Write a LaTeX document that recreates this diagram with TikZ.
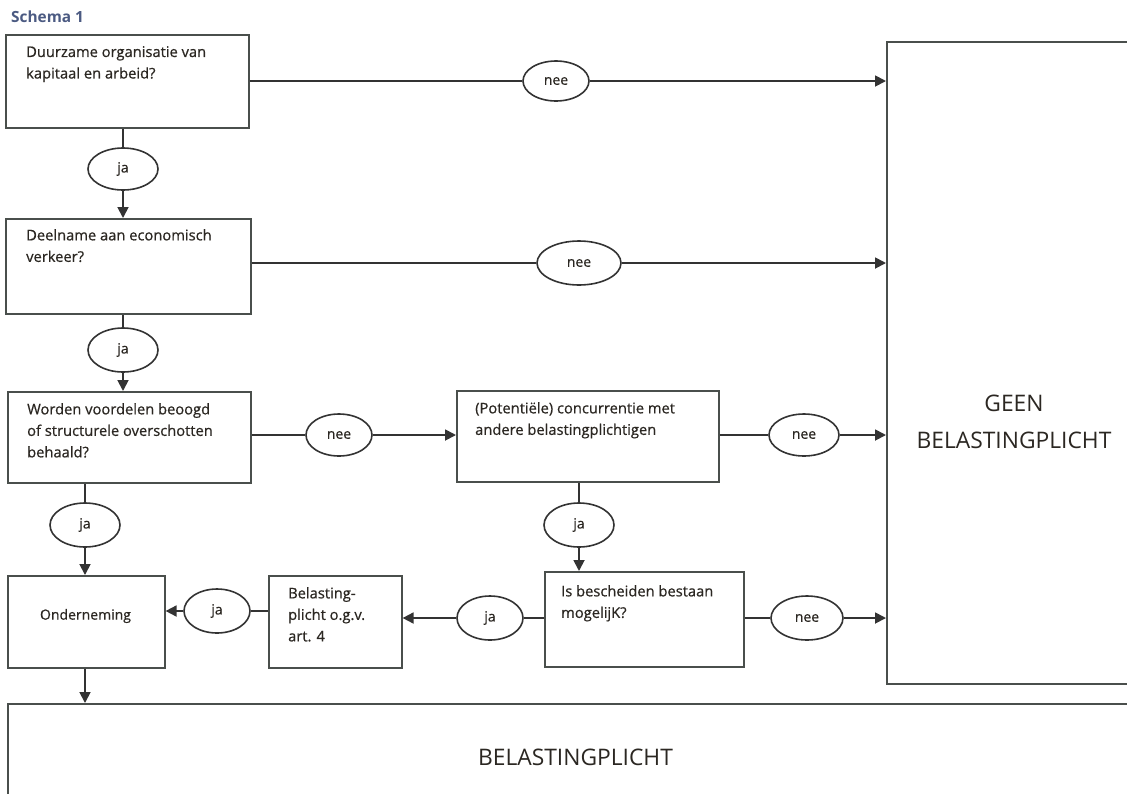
\documentclass[tikz,border=0pt]{standalone}
\usepackage{fontspec}
\setmainfont{Open Sans}
\newfontfamily\heavy{Open Sans}[FakeBold=0.6]
\usetikzlibrary{arrows.meta,shapes.geometric}
\definecolor{ln}{HTML}{333333}
\definecolor{bx}{HTML}{4A4F4C}
\definecolor{tx}{HTML}{2B2722}
\definecolor{ttl}{HTML}{4B5A82}
\tikzset{
  box/.style={draw=bx, line width=1.6pt, fill=white, inner sep=0pt},
  oval/.style={draw=ln, line width=1.6pt, ellipse, fill=white, inner sep=0pt, font=\heavy\fontsize{14}{16}\selectfont, text=tx},
  btxt/.style={anchor=north west, inner sep=0pt, align=left, text=tx, font=\heavy\fontsize{14.7}{21.5}\selectfont},
  big/.style={inner sep=0pt, align=center, text=tx, font=\fontsize{22.8}{37}\selectfont},
  con/.style={draw=ln, line width=1.8pt},
  arr/.style={con, -{Triangle[length=11pt,width=11pt]}},
}
\begin{document}
\begin{tikzpicture}[x=1pt,y=-1pt]
\clip (0,0) rectangle (1127,793);
\fill[white] (0,0) rectangle (1127,793);
\node[anchor=west, inner sep=0pt, text=ttl, font=\bfseries\fontsize{15.4}{18}\selectfont] (title) at (11,17) {Schema 1};
% boxes
\node[box, minimum width=243, minimum height=93, anchor=north west] (b1) at (5,34) {};
\node[box, minimum width=245, minimum height=95, anchor=north west] (b2) at (5,218) {};
\node[box, minimum width=243, minimum height=91, anchor=north west] (b3) at (7,391) {};
\node[box, minimum width=262, minimum height=91, anchor=north west] (b4) at (456,390) {};
\node[box, minimum width=199, minimum height=95, anchor=north west] (b5) at (544,571) {};
\node[box, minimum width=133, minimum height=92, anchor=north west] (b6) at (268,575) {};
\node[box, minimum width=157, minimum height=92, anchor=north west] (b7) at (7,575) {};
\node[box, minimum width=270, minimum height=642, anchor=north west] (geen) at (886,41) {};
\node[box, minimum width=1140, minimum height=120, anchor=north west] (bp) at (7,703) {};
% texts
\node[btxt] (t1) at (26,46) {Duurzame organisatie van\\kapitaal en arbeid?};
\node[btxt] (t2) at (26,229) {Deelname aan economisch\\verkeer?};
\node[btxt] (t3) at (27,403) {Worden voordelen beoogd\\of structurele overschotten\\behaald?};
\node[btxt] (t4) at (475,402) {(Potenti\"ele) concurrentie met\\andere belastingplichtigen};
\node[btxt] (t5) at (561,585) {Is bescheiden bestaan\\mogelijK?};
\node[btxt] (t6) at (288,587) {Belasting-\\plicht o.g.v.\\art. 4};
\node[inner sep=0pt, text=tx, font=\heavy\fontsize{14}{18}\selectfont] (t7) at (85.5,616) {Onderneming};
\node[big] (tg) at (1014,422) {GEEN\\BELASTINGPLICHT};
\node[big] (tb) at (575.5,757) {BELASTINGPLICHT};
% ovals
\node[oval, minimum width=66, minimum height=40] (nee1) at (556,81) {nee};
\node[oval, minimum width=70, minimum height=42] (ja1) at (123,169) {ja};
\node[oval, minimum width=84, minimum height=44] (nee2) at (579,263) {nee};
\node[oval, minimum width=70, minimum height=44] (ja2) at (123,350) {ja};
\node[oval, minimum width=66, minimum height=42] (nee3) at (339,435) {nee};
\node[oval, minimum width=70, minimum height=42] (nee4) at (804,435) {nee};
\node[oval, minimum width=70, minimum height=44] (ja3) at (85,525) {ja};
\node[oval, minimum width=70, minimum height=44] (ja4) at (579,525) {ja};
\node[oval, minimum width=66, minimum height=44] (ja5) at (490,618) {ja};
\node[oval, minimum width=66, minimum height=44] (ja6) at (217,611) {ja};
\node[oval, minimum width=72, minimum height=44] (nee5) at (807,618) {nee};
% connectors
\draw[con] (b1.east |- nee1) -- (nee1.west);
\draw[arr] (nee1.east) -- (geen.west |- nee1);
\draw[con] (b1.south -| ja1) -- (ja1.north);
\draw[arr] (ja1.south) -- (b2.north -| ja1);
\draw[con] (b2.east |- nee2) -- (nee2.west);
\draw[arr] (nee2.east) -- (geen.west |- nee2);
\draw[con] (b2.south -| ja2) -- (ja2.north);
\draw[arr] (ja2.south) -- (b3.north -| ja2);
\draw[con] (b3.east |- nee3) -- (nee3.west);
\draw[arr] (nee3.east) -- (b4.west |- nee3);
\draw[con] (b4.east |- nee4) -- (nee4.west);
\draw[arr] (nee4.east) -- (geen.west |- nee4);
\draw[con] (b3.south -| ja3) -- (ja3.north);
\draw[arr] (ja3.south) -- (b7.north -| ja3);
\draw[con] (b4.south -| ja4) -- (ja4.north);
\draw[arr] (ja4.south) -- (b5.north -| ja4);
\draw[con] (b5.east |- nee5) -- (nee5.west);
\draw[arr] (nee5.east) -- (geen.west |- nee5);
\draw[con] (b5.west |- ja5) -- (ja5.east);
\draw[arr] (ja5.west) -- (b6.east |- ja5);
\draw[con] (b6.west |- ja6) -- (ja6.east);
\draw[arr] (ja6.west) -- (b7.east |- ja6);
\draw[arr] (b7.south -| ja3) -- (bp.north -| ja3);
\end{tikzpicture}
\end{document}
